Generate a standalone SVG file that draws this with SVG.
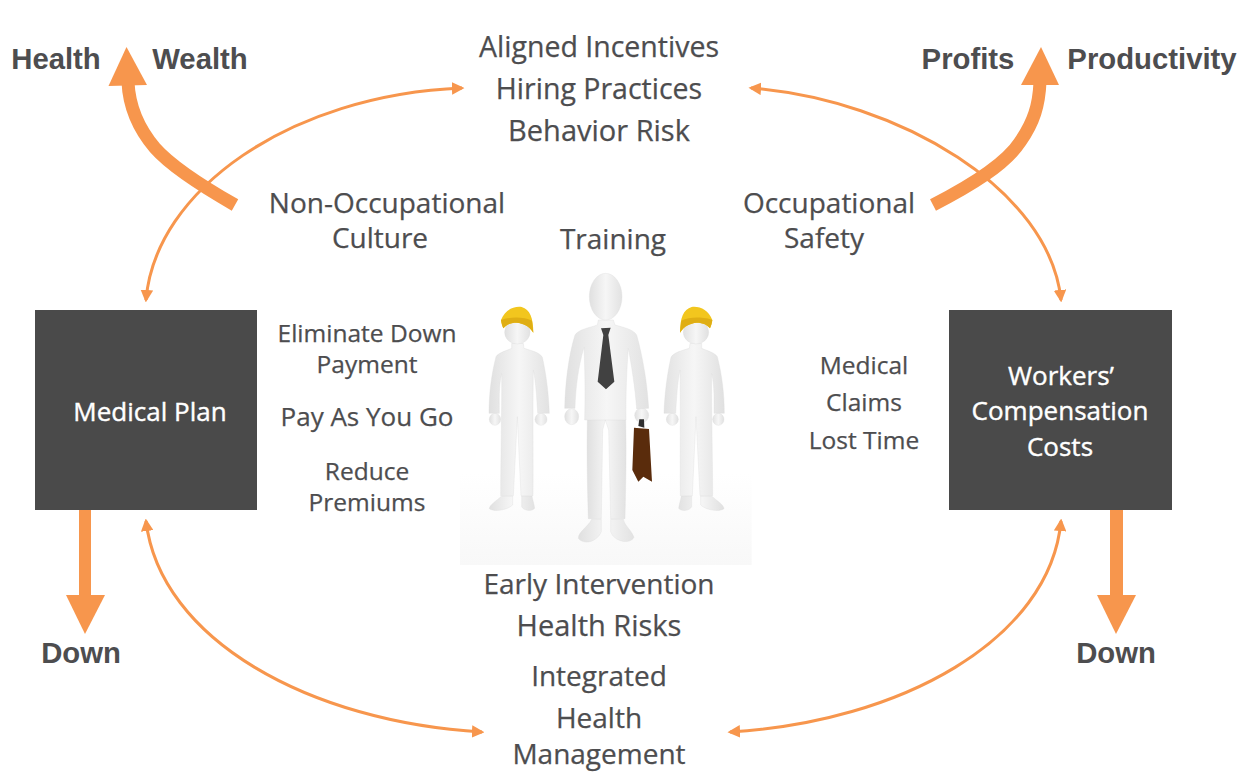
<svg xmlns="http://www.w3.org/2000/svg" xmlns:xlink="http://www.w3.org/1999/xlink" width="1246" height="773" viewBox="0 0 1246 773">
<style>
text{fill:#4d4d4f;text-anchor:middle;font-family:"Open Sans","Noto Sans","Liberation Sans",sans-serif}
.b{font-family:"Liberation Sans",Arial,sans-serif;font-weight:700;font-size:29.300px}
.l{font-size:28px;stroke:#4d4d4f;stroke-width:.25}
.m{font-size:24.500px;stroke:#4d4d4f;stroke-width:.25}
.w{fill:#fff;stroke:#fff;stroke-width:.4;font-size:26px}
.box{fill:#4a4a4a}
.thin{fill:none;stroke:#f7964d;stroke-width:3;marker-start:url(#a);marker-end:url(#a)}
.thick{fill:none;stroke:#f7964d;stroke-width:13}
.head{fill:#f7964d}
.fig{fill:url(#g);stroke:#dcdcdc;stroke-width:1}
</style>
<defs>
<marker id="a" viewBox="0 0 10 10" refX="8" refY="5" markerWidth="4.200" markerHeight="4.200" orient="auto-start-reverse"><path d="M0,0L10,5L0,10Z" fill="#f7964d"/></marker>
<linearGradient id="g" x1="0" x2="1" y1="0" y2="0"><stop offset="0" stop-color="#e0e0e0"/><stop offset=".5" stop-color="#f6f6f6"/><stop offset="1" stop-color="#e2e2e2"/></linearGradient>
<linearGradient id="f" x1="0" x2="0" y1="0" y2="1"><stop offset="0" stop-color="#fff"/><stop offset="1" stop-color="#f8f8f8"/></linearGradient>
<g id="worker">
<ellipse class="fig" cx="105" cy="478" rx="17" ry="18"/><ellipse class="fig" cx="243" cy="478" rx="18" ry="18"/>
<path class="fig" d="M125,708C110,722 88,735 88,746C100,756 140,752 158,735L158,708ZM185,708L185,740C190,752 215,756 224,745C222,730 218,720 216,708Z"/>
<path class="fig" d="M155,250L190,250L192,265C215,272 240,278 247,292C258,340 266,400 268,460L233,460C230,410 228,370 220,330C218,450 220,600 219,707L183,707L172,470L160,707L122,707C122,600 126,450 125,340C116,380 118,420 118,460L87,460C87,400 95,340 108,290C115,278 140,272 155,265Z"/>
<ellipse class="fig" cx="172" cy="217" rx="38" ry="35"/>
<path fill="#f2c61e" d="M123,180C135,150 160,138 185,141C210,148 220,175 220,218C208,198 190,190 170,188C150,188 138,195 130,205C127,197 124,190 123,180Z"/>
<path fill="#dfae14" d="M123,180C140,172 190,168 216,182L220,218C208,198 190,190 170,188C150,188 138,195 130,205C127,197 124,190 123,180Z"/>
</g>
</defs>
<g id="connectors">
<path class="thin" d="M146,300C155,190 290,95 462,88"/>
<path class="thin" d="M751,88C900,100 1050,190 1061,300"/>
<path class="thin" d="M146,521C160,640 310,722 482,732"/>
<path class="thin" d="M1061,521C1050,640 900,722 730,732"/>
<path class="thick" d="M235,205C200,185 170,165 155,148C138,128 129,105 128,82"/>
<polygon class="head" points="126.500,47 108.500,86 147,85"/>
<path class="thick" d="M933,205C970,186 1005,165 1020,142C1034,122 1039,105 1040,82"/>
<polygon class="head" points="1041,47 1021,85 1059,85"/>
<rect class="head" x="79" y="510" width="12" height="86"/>
<polygon class="head" points="66,595 105,595 85,634"/>
<rect class="head" x="1110" y="510" width="13" height="86"/>
<polygon class="head" points="1097,595 1136,595 1116,634"/>
</g>
<g id="medical-plan"><rect class="box" x="35" y="310" width="222" height="200"/><text class="w" x="150" y="421">Medical Plan</text></g>
<g id="workers-comp"><rect class="box" x="949" y="310" width="223" height="200"/><text class="w"><tspan x="1061" y="385">Workers’</tspan><tspan x="1060" y="420">Compensation</tspan><tspan x="1060" y="456">Costs</tspan></text></g>
<g id="people">
<g transform="translate(460 260) scale(.33333)">
<rect y="640" width="875" height="275" fill="url(#f)"/>
<use xlink:href="#worker" href="#worker"/>
<use xlink:href="#worker" href="#worker" transform="translate(880 0) scale(-1 1)"/>
<ellipse class="fig" cx="335" cy="470" rx="21" ry="24"/><ellipse class="fig" cx="545" cy="466" rx="21" ry="22"/>
<path class="fig" d="M395,778C385,800 355,815 355,835C370,855 410,848 424,815L424,778ZM452,778L452,815C462,845 510,855 522,832C515,810 495,800 490,778Z"/>
<path class="fig" d="M382,478L497,478C500,580 497,680 495,776L452,776L446,510L436,480L428,510L424,776L385,776C382,680 380,580 382,478Z"/>
<path class="fig" d="M415,180L460,180L465,195C490,202 520,208 530,225C548,290 562,370 566,445L530,447C525,380 515,320 505,265C500,330 497,400 498,480L374,480C376,400 375,330 372,262C355,320 347,380 345,445L314,445C316,370 325,290 345,225C355,208 390,203 412,195Z"/>
<ellipse class="fig" cx="437" cy="110" rx="49" ry="70"/>
<path fill="#414141" d="M423,205L452,203L445,225L463,365L438,388L413,365L430,225Z"/>
<path fill="#2f2f2f" d="M535,498L538,478L552,478L553,503Z"/>
<path fill="#5a2c0c" d="M522,503L567,507L576,665L550,650L535,665L517,630Z"/>
</g>
</g>
<g id="labels">
<text class="b" x="56" y="69">Health</text>
<text class="b" x="200" y="69">Wealth</text>
<text class="b" x="968" y="69">Profits</text>
<text class="b" x="1152" y="69">Productivity</text>
<text class="b" x="81" y="663">Down</text>
<text class="b" x="1116" y="663">Down</text>
<text class="l"><tspan x="599" y="57" font-size="28.500">Aligned Incentives</tspan><tspan x="599" y="99" font-size="28.500">Hiring Practices</tspan><tspan x="599" y="141" font-size="29">Behavior Risk</tspan></text>
<text class="l"><tspan x="387" y="213">Non-Occupational</tspan><tspan x="380" y="248">Culture</tspan></text>
<text class="l" x="613" y="249">Training</text>
<text class="l"><tspan x="829" y="213">Occupational</tspan><tspan x="824" y="248">Safety</tspan></text>
<text class="m"><tspan x="367" y="342">Eliminate Down</tspan><tspan x="367" y="373">Payment</tspan><tspan x="367" y="426" font-size="26">Pay As You Go</tspan><tspan x="367" y="480">Reduce</tspan><tspan x="367" y="511">Premiums</tspan></text>
<text class="m"><tspan x="864" y="374">Medical</tspan><tspan x="864" y="411">Claims</tspan><tspan x="864" y="449">Lost Time</tspan></text>
<text class="l"><tspan x="599" y="594">Early Intervention</tspan><tspan x="599" y="636" font-size="29">Health Risks</tspan><tspan x="599" y="686">Integrated</tspan><tspan x="599" y="728">Health</tspan><tspan x="599" y="764">Management</tspan></text>
</g>
</svg>
